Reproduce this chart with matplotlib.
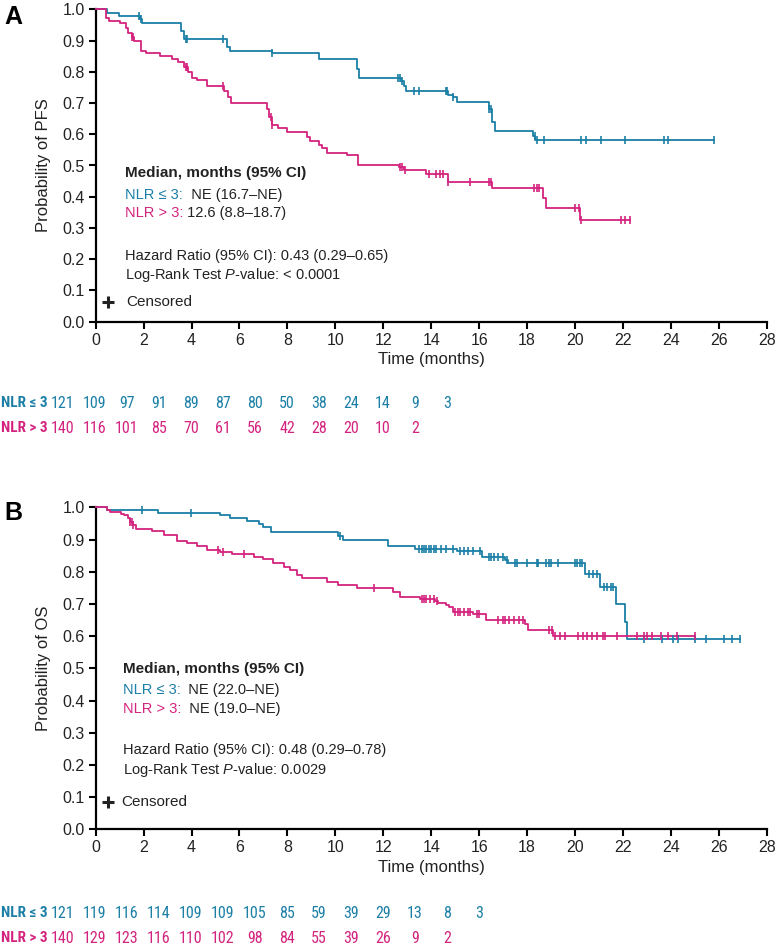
import numpy as np
import matplotlib
matplotlib.use('Agg')
import matplotlib.pyplot as plt
from matplotlib import font_manager
from matplotlib.font_manager import FontProperties

plt.rcParams['font.family'] = ['Liberation Sans', 'DejaVu Sans']
plt.rcParams['mathtext.fontset'] = 'custom'
plt.rcParams['mathtext.it'] = 'Liberation Sans:italic'
plt.rcParams['mathtext.rm'] = 'Liberation Sans'

TEAL = '#1b7fa6'
PINK = '#d4237e'
DARK = '#222222'

# ---------------- Panel A: PFS ----------------
pfs_lo_t = [0, 0.49, 0.97, 1.85, 1.95, 3.55, 3.7, 5.49, 5.6, 7.36, 9.3, 10.9, 11.0,
            12.75, 12.85, 12.95, 14.7, 14.9, 15.07, 16.4, 16.55, 16.65, 18.25, 18.35, 25.8]
pfs_lo_s = [1.0, 0.989, 0.980, 0.970, 0.957, 0.93, 0.904, 0.88, 0.866, 0.86, 0.84, 0.81, 0.781,
            0.77, 0.755, 0.738, 0.725, 0.718, 0.703, 0.68, 0.64, 0.61, 0.595, 0.583, 0.583]
pfs_lo_cens = [1.8, 1.9, 3.75, 3.8, 5.3, 7.36, 12.6, 12.7, 12.8, 13.3, 13.5, 14.6, 14.65,
               14.9, 16.4, 16.5, 18.33, 18.4, 18.7, 20.25, 20.46, 21.1, 22.1, 23.7, 23.9, 25.8]

pfs_hi_t = [0, 0.42, 0.55, 1.0, 1.25, 1.35, 1.5, 1.6, 1.875, 2.1, 2.7, 3.2, 3.45, 3.7, 3.85,
            4.0, 4.24, 4.65, 5.35, 5.5, 5.65, 7.15, 7.25, 7.35, 7.6, 8.0, 8.8, 8.95, 9.3, 9.45,
            9.65, 10.5, 10.95, 12.65, 12.85, 13.78, 14.7, 16.55, 18.65, 18.8, 20.2, 22.3]
pfs_hi_s = [1.0, 0.973, 0.962, 0.957, 0.94, 0.925, 0.91, 0.897, 0.866, 0.861, 0.85, 0.84, 0.83,
            0.815, 0.80, 0.78, 0.775, 0.754, 0.74, 0.72, 0.70, 0.68, 0.655, 0.63, 0.62, 0.607,
            0.59, 0.58, 0.565, 0.555, 0.54, 0.535, 0.503, 0.495, 0.487, 0.474, 0.446, 0.428,
            0.396, 0.364, 0.324, 0.324]
pfs_hi_cens = [1.5, 1.55, 3.75, 3.8, 5.3, 7.3, 7.35, 12.7, 12.8, 12.9, 13.9, 14.2, 14.35, 14.5,
               14.7, 15.6, 16.4, 16.5, 18.3, 18.4, 18.5, 20.0, 20.15, 20.25, 21.9, 22.1, 22.3]

# ---------------- Panel B: OS ----------------
os_lo_t = [0, 0.49, 2.6, 5.2, 5.6, 6.3, 6.8, 7.0, 7.3, 10.1, 10.3, 12.2, 13.33, 15.07, 16.1,
           17.1, 17.2, 20.4, 21.04, 21.7, 22.08, 22.18, 26.9]
os_lo_s = [1.0, 0.992, 0.983, 0.975, 0.966, 0.957, 0.949, 0.94, 0.923, 0.91, 0.898, 0.880,
           0.872, 0.864, 0.846, 0.836, 0.826, 0.793, 0.753, 0.70, 0.645, 0.59, 0.59]
os_lo_cens = [1.95, 3.96, 10.2, 13.5, 13.6, 13.7, 13.8, 13.9, 14.0, 14.1, 14.2, 14.4, 14.6, 14.9,
              15.2, 15.35, 15.55, 15.76, 16.04, 16.4, 16.5, 16.6, 16.8, 17.0, 17.18, 17.5, 17.6,
              18.0, 18.4, 18.45, 18.8, 18.9, 19.0, 19.3, 20.0, 20.1, 20.2, 20.3, 20.6, 20.76,
              20.9, 21.2, 21.35, 21.5, 21.6, 22.9, 23.65, 24.1, 24.3, 25.0, 25.46, 26.2, 26.57, 26.9]

os_hi_t = [0, 0.49, 0.6, 1.04, 1.2, 1.35, 1.45, 1.55, 1.67, 2.36, 2.85, 3.4, 3.82, 4.24, 4.65,
           5.2, 5.7, 6.6, 7.0, 7.4, 7.85, 8.1, 8.4, 8.6, 9.65, 10.1, 10.9, 12.4, 12.7, 13.54,
           14.17, 14.3, 14.6, 14.75, 14.9, 15.76, 16.3, 17.9, 18.05, 19.07, 25.0]
os_hi_s = [1.0, 0.991, 0.985, 0.98, 0.975, 0.966, 0.955, 0.944, 0.934, 0.927, 0.915, 0.896,
           0.889, 0.88, 0.868, 0.861, 0.854, 0.846, 0.838, 0.828, 0.815, 0.806, 0.789, 0.779,
           0.769, 0.759, 0.748, 0.738, 0.722, 0.714, 0.708, 0.702, 0.696, 0.69, 0.676, 0.668,
           0.65, 0.638, 0.619, 0.601, 0.601]
os_hi_cens = [1.45, 1.5, 1.55, 5.1, 5.3, 6.2, 11.6, 13.6, 13.7, 13.8, 13.95, 14.1, 14.25, 15.0,
              15.1, 15.2, 15.35, 15.55, 15.6, 15.9, 16.0, 16.8, 17.0, 17.1, 17.25, 17.45, 17.65,
              17.85, 18.9, 19.05, 19.17, 19.38, 19.58, 20.14, 20.35, 20.49, 20.7, 20.9, 21.15,
              21.25, 21.74, 22.6, 22.9, 23.0, 23.2, 23.57, 23.9, 24.24, 25.0]

# ---------------- Numbers at risk ----------------
risk_times = [0, 2, 4, 6, 8, 10, 12, 14, 16, 18, 20, 22, 24, 26]
risk_pfs_lo = [121, 109, 97, 91, 89, 87, 80, 50, 38, 24, 14, 9, 3]
risk_pfs_hi = [140, 116, 101, 85, 70, 61, 56, 42, 28, 20, 10, 2]
risk_os_lo = [121, 119, 116, 114, 109, 109, 105, 85, 59, 39, 29, 13, 8, 3]
risk_os_hi = [140, 129, 123, 116, 110, 102, 98, 84, 55, 39, 26, 9, 2]

xticks = list(range(0, 29, 2))
yticks = [round(0.1 * i, 1) for i in range(11)]


# ---- find a condensed font for the risk table, if any is installed ----
def _weight_num(w):
    if isinstance(w, (int, float)):
        return w
    return {'bold': 700, 'semibold': 600, 'demibold': 600, 'heavy': 800, 'black': 900,
            'extra bold': 800}.get(str(w).lower(), 400)


def find_condensed(bold):
    prefs = ['liberation sans narrow', 'arial narrow', 'roboto condensed', 'open sans condensed',
             'noto sans', 'dejavu sans']
    best = None
    for f in font_manager.fontManager.ttflist:
        n = f.name.lower()
        p = f.fname.lower()
        cond = ('narrow' in n or 'narrow' in p or 'condensed' in n or 'condensed' in p
                or str(f.stretch) in ('condensed', 'semi-condensed'))
        if not cond:
            continue
        if 'italic' in p or 'oblique' in p or str(f.style) != 'normal':
            continue
        w = _weight_num(f.weight)
        if bold and w < 600:
            continue
        if not bold and w >= 600:
            continue
        if not bold and ('light' in p or 'thin' in p):
            continue
        rank = len(prefs)
        for i, pr in enumerate(prefs):
            if n.startswith(pr):
                rank = i
                break
        if best is None or rank < best[0]:
            best = (rank, f.fname)
    if best is None or best[0] >= 4:
        return None
    return best[1]


_cb = find_condensed(True)
_cr = find_condensed(False)
LBL_FP = FontProperties(fname=_cb, size=11) if _cb else FontProperties(family='Liberation Sans', weight='bold', size=8.5)
NUM_FP = FontProperties(fname=_cr, size=11.5) if _cr else FontProperties(family='Liberation Sans', size=10.5)

W, H = 781, 946
fig = plt.figure(figsize=(W / 100, H / 100), dpi=100)


def fx(px):
    return px / W


def fy(py):
    return 1 - py / H


def step_at(ts, ss, t):
    idx = np.searchsorted(ts, t, side='right') - 1
    return np.asarray(ss)[idx]


def km_axes(ax, curves, ylabel):
    for ts, ss, cens, col in curves:
        ax.plot(ts, ss, drawstyle='steps-post', color=col, lw=1.3, clip_on=False, zorder=3)
        cy = [step_at(ts, ss, c) for c in cens]
        ax.plot(cens, cy, ls='none', marker='|', ms=5.5, mew=1.2, color=col, clip_on=False, zorder=4)
    ax.set_xlim(0, 28)
    ax.set_ylim(0, 1.0)
    ax.set_xticks(xticks)
    ax.set_yticks(yticks)
    ax.set_yticklabels([f'{v:.1f}' for v in yticks])
    for s in ['top', 'right']:
        ax.spines[s].set_visible(False)
    for s in ['left', 'bottom']:
        ax.spines[s].set_linewidth(1.6)
        ax.spines[s].set_color('black')
    ax.tick_params(direction='out', length=5, width=1.5, labelsize=11.5, colors='black',
                   labelcolor=DARK, pad=3)
    ax.set_xlabel('Time (months)', fontsize=12, color=DARK, labelpad=3)
    ax.set_ylabel(ylabel, fontsize=12, color=DARK, labelpad=8)


def rich_line(ax, x, y, parts, fontsize=10.5):
    """parts: list of (text, color, weight)"""
    fig.canvas.draw()
    renderer = fig.canvas.get_renderer()
    cur = ax.transData.transform((x, y))
    for txt, col, wt in parts:
        t = ax.text(cur[0], cur[1], txt, color=col, fontsize=fontsize, fontweight=wt,
                    transform=None, va='center', ha='left')
        bb = t.get_window_extent(renderer=renderer)
        cur = (bb.x1, cur[1])


axA = fig.add_axes([fx(95.7), fy(321.7), fx(766.7 - 95.7), (321.7 - 9.3) / H])
axB = fig.add_axes([fx(95.7), fy(829.3), fx(766.7 - 95.7), (829.3 - 507.3) / H])

km_axes(axA, [(pfs_lo_t, pfs_lo_s, pfs_lo_cens, TEAL), (pfs_hi_t, pfs_hi_s, pfs_hi_cens, PINK)],
        'Probability of PFS')
km_axes(axB, [(os_lo_t, os_lo_s, os_lo_cens, TEAL), (os_hi_t, os_hi_s, os_hi_cens, PINK)],
        'Probability of OS')

# Panel letters
fig.text(fx(4), fy(17), 'A', fontsize=18, fontweight='bold', va='center', ha='left', color='black')
fig.text(fx(4), fy(513), 'B', fontsize=18, fontweight='bold', va='center', ha='left', color='black')

# Annotations panel A
axA.text(1.22, 0.475, 'Median, months (95% CI)', fontsize=11, fontweight='bold', color=DARK, va='center')
rich_line(axA, 1.22, 0.405, [('NLR ≤ 3:', TEAL, 'normal'), ('  NE (16.7–NE)', DARK, 'normal')])
rich_line(axA, 1.22, 0.347, [('NLR > 3:', PINK, 'normal'), (' 12.6 (8.8–18.7)', DARK, 'normal')])
axA.text(1.22, 0.21, 'Hazard Ratio (95% CI): 0.43 (0.29–0.65)', fontsize=10.5, color=DARK, va='center')
axA.text(1.22, 0.15, r'Log-Rank Test $\mathit{P}$-value: < 0.0001', fontsize=10.5, color=DARK, va='center')
axA.plot([0.52], [0.064], marker='+', ms=8, mew=2.2, color=DARK, clip_on=False)
axA.text(1.26, 0.064, 'Censored', fontsize=11, color=DARK, va='center')

# Annotations panel B
axB.text(1.12, 0.498, 'Median, months (95% CI)', fontsize=11, fontweight='bold', color=DARK, va='center')
rich_line(axB, 1.12, 0.433, [('NLR ≤ 3:', TEAL, 'normal'), ('  NE (22.0–NE)', DARK, 'normal')])
rich_line(axB, 1.12, 0.373, [('NLR > 3:', PINK, 'normal'), ('  NE (19.0–NE)', DARK, 'normal')])
axB.text(1.12, 0.246, 'Hazard Ratio (95% CI): 0.48 (0.29–0.78)', fontsize=10.5, color=DARK, va='center')
axB.text(1.12, 0.184, r'Log-Rank Test $\mathit{P}$-value: 0.0029', fontsize=10.5, color=DARK, va='center')
axB.plot([0.52], [0.084], marker='+', ms=8, mew=2.2, color=DARK, clip_on=False)
axB.text(1.05, 0.084, 'Censored', fontsize=11, color=DARK, va='center')


# Risk tables
def risk_table(y_top, y_bot, lo, hi):
    tab = fig.add_axes([fx(63), fy(y_bot + 10), fx(448), (y_bot - y_top + 20) / H])
    tab.set_xlim(0, 28)
    tab.set_ylim(y_bot + 10, y_top - 10)
    tab.axis('off')
    for t, n in zip(risk_times, lo):
        tab.text(t, y_top, str(n), ha='center', va='center', color=TEAL, fontproperties=NUM_FP)
    for t, n in zip(risk_times, hi):
        tab.text(t, y_bot, str(n), ha='center', va='center', color=PINK, fontproperties=NUM_FP)
    fig.text(fx(1), fy(y_top), 'NLR ≤ 3', ha='left', va='center', color=TEAL, fontproperties=LBL_FP)
    fig.text(fx(1), fy(y_bot), 'NLR > 3', ha='left', va='center', color=PINK, fontproperties=LBL_FP)


risk_table(403, 428, risk_pfs_lo, risk_pfs_hi)
risk_table(913, 938, risk_os_lo, risk_os_hi)

fig.savefig('out.png', dpi=100)
